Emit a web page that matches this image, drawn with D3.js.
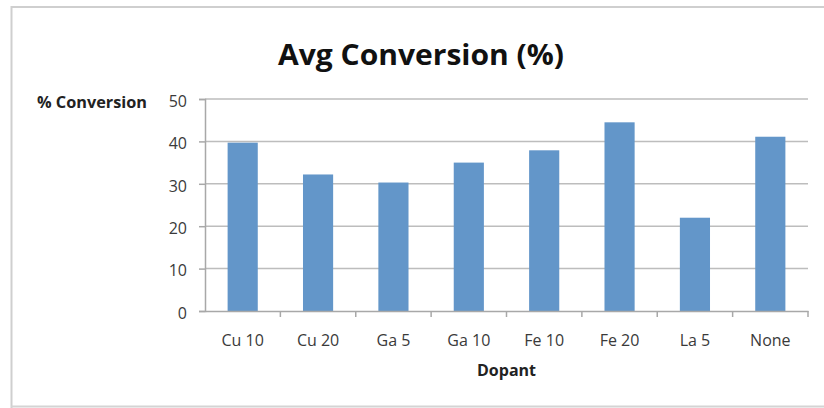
<!DOCTYPE html>
<html>
<head>
<meta charset="utf-8">
<script src="https://cdn.jsdelivr.net/npm/d3@7"></script>
<style>
  html, body { margin: 0; padding: 0; background: #fff; }
  svg { display: block; }
</style>
</head>
<body>
<svg id="chart" width="824" height="408"></svg>
<script>
// Average conversion by dopant
const dopants = ["Cu 10", "Cu 20", "Ga 5", "Ga 10", "Fe 10", "Fe 20", "La 5", "None"];
const conversion = [39.7, 32.2, 30.3, 35.0, 37.9, 44.5, 22.0, 41.1];
const yTicks = [0, 10, 20, 30, 40, 50];

const titleText = "Avg Conversion (%)";
const yLabel = "% Conversion";
const xLabel = "Dopant";

const W = 824, H = 408;
const plot = { left: 205, right: 808, top: 99, bottom: 311 };

const svg = d3.select("#chart");
const font = "'Open Sans', 'Noto Sans', sans-serif";

// chart area frame
svg.append("path")
  .attr("d", `M11.5,${H + 5} V7 H${W + 5}`)
  .attr("fill", "none")
  .attr("stroke", "#cfcfcf")
  .attr("stroke-width", 2);
svg.append("line")
  .attr("x1", 11).attr("x2", W + 5)
  .attr("y1", 406.5).attr("y2", 406.5)
  .attr("stroke", "#d4d4d4").attr("stroke-width", 2);

const x = d3.scaleBand()
  .domain(dopants)
  .range([plot.left, plot.right])
  .paddingInner(0.6)
  .paddingOuter(0.3);

const y = d3.scaleLinear()
  .domain([0, 50])
  .range([plot.bottom, plot.top]);

// horizontal gridlines
svg.append("g")
  .selectAll("line")
  .data(yTicks.filter(d => d > 0))
  .join("line")
  .attr("x1", plot.left).attr("x2", plot.right)
  .attr("y1", d => y(d)).attr("y2", d => y(d))
  .attr("stroke", "#bdbdbd")
  .attr("stroke-width", 1.5);

// bars
svg.append("g")
  .selectAll("rect")
  .data(dopants.map((d, i) => ({ d, v: conversion[i] })))
  .join("rect")
  .attr("x", r => x(r.d))
  .attr("width", x.bandwidth())
  .attr("y", r => y(r.v))
  .attr("height", r => y(0) - y(r.v))
  .attr("fill", "#6396c9");

// y axis
const yAxis = svg.append("g")
  .attr("transform", `translate(${plot.left},0)`)
  .call(d3.axisLeft(y).tickValues(yTicks).tickSize(6).tickPadding(12).tickFormat(d3.format("d")));
yAxis.select(".domain").attr("stroke", "#a8a8a8").attr("stroke-width", 1.5);
yAxis.selectAll(".tick line").attr("stroke", "#a8a8a8").attr("stroke-width", 1.5);
yAxis.selectAll(".tick text")
  .attr("font-family", font)
  .attr("font-size", 16)
  .attr("dy", "0.45em")
  .attr("fill", "#3a3a3a");

// x axis with ticks on category boundaries
const xAxis = svg.append("g")
  .attr("transform", `translate(0,${plot.bottom})`)
  .call(d3.axisBottom(x).tickSize(0).tickPadding(23.5));
xAxis.select(".domain").attr("stroke", "#a8a8a8").attr("stroke-width", 1.5);
xAxis.selectAll(".tick text")
  .attr("font-family", font)
  .attr("font-size", 16)
  .attr("fill", "#3a3a3a");
xAxis.append("g")
  .selectAll("line")
  .data(dopants)
  .join("line")
  .attr("x1", d => x(d) + x.step() * 0.7)
  .attr("x2", d => x(d) + x.step() * 0.7)
  .attr("y1", 0).attr("y2", 6)
  .attr("stroke", "#a8a8a8").attr("stroke-width", 1.5);

// title
svg.append("text")
  .attr("x", 421).attr("y", 65)
  .attr("text-anchor", "middle")
  .attr("font-family", font)
  .attr("font-weight", 700)
  .attr("font-size", 29)
  .attr("textLength", 286)
  .attr("lengthAdjust", "spacingAndGlyphs")
  .attr("fill", "#111")
  .text(titleText);

// axis titles
svg.append("text")
  .attr("x", 92).attr("y", 108)
  .attr("text-anchor", "middle")
  .attr("font-family", font)
  .attr("font-weight", 700)
  .attr("font-size", 16)
  .attr("textLength", 110)
  .attr("lengthAdjust", "spacingAndGlyphs")
  .attr("fill", "#222")
  .text(yLabel);

svg.append("text")
  .attr("x", (plot.left + plot.right) / 2).attr("y", 376)
  .attr("text-anchor", "middle")
  .attr("font-family", font)
  .attr("font-weight", 700)
  .attr("font-size", 16)
  .attr("fill", "#222")
  .text(xLabel);
</script>
</body>
</html>
